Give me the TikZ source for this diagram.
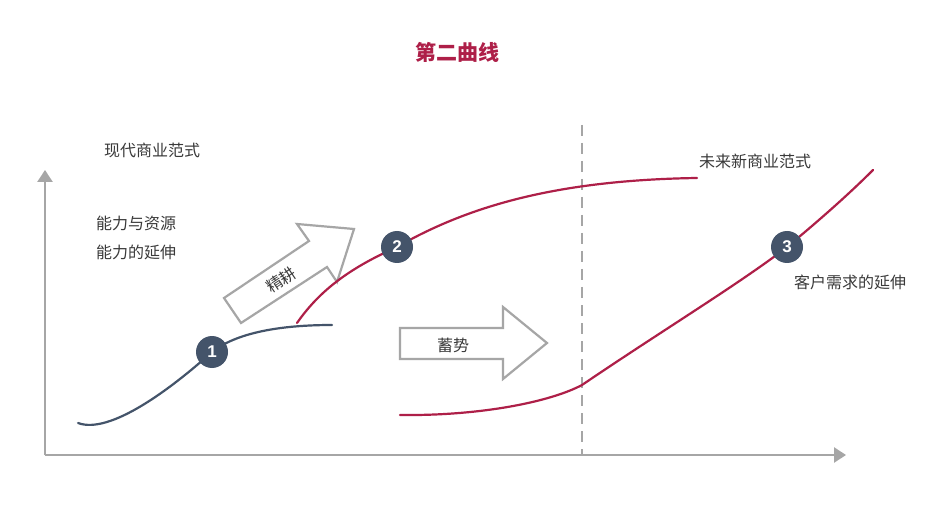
\documentclass[tikz,border=0pt]{standalone}
\usepackage{fontspec}
\newfontfamily\cjk{Noto Sans CJK SC}
\newfontfamily\numfont{Liberation Sans}
\usetikzlibrary{arrows.meta}
\definecolor{axisgray}{HTML}{A6A6A6}
\definecolor{crimson}{HTML}{AE1F48}
\definecolor{slate}{HTML}{44546A}
\definecolor{txt}{HTML}{3A3A3A}
\tikzset{
  axisline/.style={draw=axisgray, line width=2.6pt, -{Triangle[length=12pt,width=15pt]}},
  divider/.style={draw=axisgray, line width=2.2pt, dash pattern=on 11pt off 7pt},
  redcurve/.style={draw=crimson, line width=2.2pt, line cap=round},
  darkcurve/.style={draw=slate, line width=2.2pt, line cap=round},
  blockarrow/.style={draw=axisgray, fill=white, line width=2.2pt, line join=miter},
  label/.style={font=\cjk\fontsize{16}{18}\selectfont, text=txt, inner sep=0pt},
  marker/.style={circle, fill=slate, minimum size=32pt, inner sep=0pt, text=white, font=\numfont\bfseries\fontsize{17}{18}\selectfont},
  titletext/.style={font=\cjk\bfseries\fontsize{21}{24}\selectfont, text=crimson, inner sep=0pt}
}
\begin{document}
\begin{tikzpicture}[x=1pt,y=-1pt]
\useasboundingbox (0,0) rectangle (944,518);
\fill[white] (0,0) rectangle (944,518);

\node[titletext] (title) at (457,52) {第二曲线};

% axes
\coordinate (origin) at (45,455);
\coordinate (ytop) at (45,170);
\coordinate (xend) at (846,455);
\draw[axisline] (origin) -- (ytop);
\draw[axisline] (origin) -- (xend);

% divider
\coordinate (dtop) at (582,125);
\coordinate (dbot) at (582,455);
\draw[divider] (dtop) -- (dbot);

% labels
\node[label, anchor=west] (modern) at (104,150) {现代商业范式};
\node[label, anchor=west] (ability) at (96,223) {能力与资源};
\node[label, anchor=west] (extend) at (96,252) {能力的延伸};
\node[label, anchor=west] (future) at (699,161) {未来新商业范式};
\node[label, anchor=west] (customer) at (794,282) {客户需求的延伸};

% block arrow 精耕
\draw[blockarrow] (241,323) -- (224,298) -- (309,241) -- (297,224) -- (354,229) -- (337,282) -- (327,267) -- cycle;
\node[label, rotate=34] (jinggeng) at (281,280) {精耕};

% block arrow 蓄势
\draw[blockarrow] (400,328) -- (503,328) -- (503,307) -- (547,343) -- (503,379) -- (503,359) -- (400,359) -- cycle;
\node[label] (xushi) at (453,345) {蓄势};

% markers positions
\coordinate (p1) at (212,352);
\coordinate (p2) at (397,247);
\coordinate (p3) at (787,247);

% dark curve
\draw[darkcurve] (78,423) .. controls (110,435) and (172,388) .. (p1) .. controls (240,330) and (290,325) .. (332,325);

% red curve 1
\draw[redcurve] (297,323) .. controls (320,290) and (350,268) .. (p2) .. controls (470,205) and (560,180) .. (697,178);

% red curve 2
\draw[redcurve] (400,415) .. controls (480,416) and (550,402) .. (582,385) .. controls (660,332) and (742,282) .. (p3) .. controls (822,218) and (850,193) .. (873,170);

\node[marker] (m1) at (p1) {1};
\node[marker] (m2) at (p2) {2};
\node[marker] (m3) at (p3) {3};
\end{tikzpicture}
\end{document}
